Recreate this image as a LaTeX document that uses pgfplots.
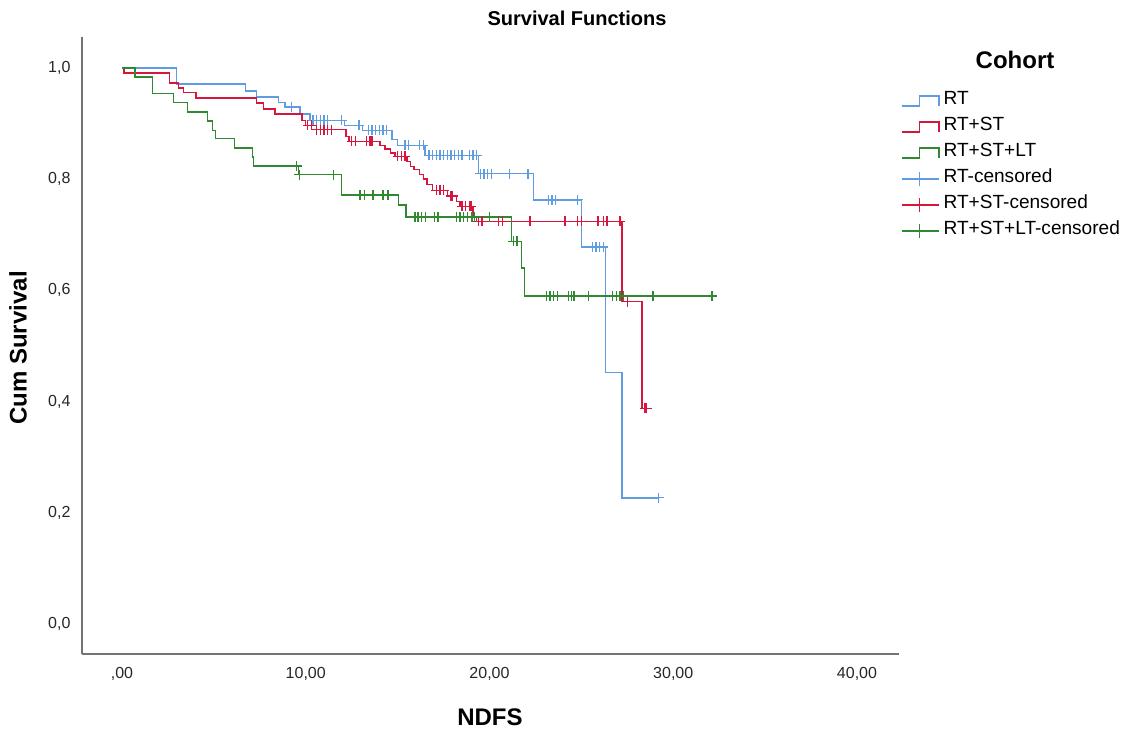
\documentclass[border=0pt]{standalone}
\usepackage{fontspec}
\setmainfont{Liberation Sans}
\usepackage{pgfplots}
\pgfplotsset{compat=1.18}
\definecolor{blueC}{RGB}{96,156,226}
\definecolor{redC}{RGB}{214,22,60}
\definecolor{greenC}{RGB}{48,136,48}
\begin{document}
\begin{tikzpicture}
\path[use as bounding box] (0,0) rectangle (844.5pt,548.25pt);
\begin{axis}[
  at={(61.5pt,57.75pt)}, anchor=south west,
  scale only axis, width=612.75pt, height=462.75pt,
  xmin=-2.177, xmax=42.286, ymin=-0.054, ymax=1.0558,
  axis x line*=bottom, axis y line*=left,
  axis line style={-, draw=black!55, line width=1pt},
  x axis line style={-}, y axis line style={-},
  major tick length=0pt,
  xtick={0,10,20,30,40},
  xticklabels={{,00},{10,00},{20,00},{30,00},{40,00}},
  ytick={0,0.2,0.4,0.6,0.8,1.0},
  yticklabels={{0,0},{0,2},{0,4},{0,6},{0,8},{1,0}},
  xticklabel style={font=\fontsize{12}{14}\selectfont, text=black!85, anchor=center, inner sep=0pt, yshift=-15pt},
  yticklabel style={font=\fontsize{12}{14}\selectfont, text=black!85, anchor=east, inner sep=0pt, xshift=-8.5pt},
  legend style={draw=none, fill=none, at={(axis description cs:0.997,0.922)}, anchor=north west,
    font=\fontsize{14.3}{16}\selectfont, row sep=0pt,
    nodes={inner sep=0pt, text height=12pt, text depth=7.5pt}},
  legend cell align=left,
  clip=false,
]
% ---- step curves ----
\addplot[blueC, line width=1.1pt, const plot, mark=none,
  legend image code/.code={\draw[blueC,line width=1.1pt] (0pt,-3.75pt) -- (13.5pt,-3.75pt) -- (13.5pt,3.75pt) -- (28pt,3.75pt) -- (28pt,-3.75pt); \path (31pt,0pt);}]
coordinates {
(0,1.0) (2.97,0.971) (6.73,0.959) (7.33,0.948) (8.51,0.938) (8.87,0.930)
(9.69,0.917) (10.23,0.906) (12.1,0.897) (13.1,0.888) (14.7,0.871) (15.0,0.861)
(16.5,0.843) (19.4,0.810) (22.4,0.763) (25.0,0.678) (26.3,0.452) (27.2,0.227) (29.2,0.227)
};
\addlegendentry{RT}
\addplot[redC, line width=1.1pt, const plot, mark=none,
  legend image code/.code={\draw[redC,line width=1.1pt] (0pt,-3.75pt) -- (13.5pt,-3.75pt) -- (13.5pt,3.75pt) -- (28pt,3.75pt) -- (28pt,-3.75pt); \path (31pt,0pt);}]
coordinates {
(0,1.0) (0.1,0.991) (2.58,0.973) (3.07,0.964) (3.34,0.956) (4.03,0.946)
(7.33,0.937) (7.69,0.926) (8.33,0.917) (9.8,0.906) (10.0,0.897) (10.3,0.889)
(12.2,0.877) (12.35,0.868) (14.04,0.861) (14.3,0.854) (14.6,0.847) (14.86,0.841)
(15.5,0.832) (15.7,0.823) (15.9,0.817) (16.2,0.808) (16.4,0.800) (16.6,0.790)
(16.9,0.780) (17.7,0.770) (18.2,0.760) (18.4,0.751) (19.1,0.733) (19.3,0.724)
(27.2,0.580) (28.3,0.388) (28.7,0.388)
};
\addlegendentry{RT+ST}
\addplot[greenC, line width=1.1pt, const plot, mark=none,
  legend image code/.code={\draw[greenC,line width=1.1pt] (0pt,-3.75pt) -- (13.5pt,-3.75pt) -- (13.5pt,3.75pt) -- (28pt,3.75pt) -- (28pt,-3.75pt); \path (31pt,0pt);}]
coordinates {
(0,1.0) (0.71,0.984) (1.67,0.954) (2.79,0.938) (3.55,0.921) (4.64,0.905)
(4.93,0.888) (5.1,0.873) (6.11,0.856) (7.11,0.840) (7.15,0.824) (9.6,0.808)
(11.95,0.772) (15.04,0.754) (15.45,0.732) (21.2,0.688) (21.75,0.640) (21.9,0.590) (32.4,0.590)
};
\addlegendentry{RT+ST+LT}
% ---- censored marks ----
\addplot[blueC, only marks, mark=+, mark size=3.75pt, mark options={line width=1pt},
  legend image code/.code={\draw[blueC,line width=1pt] (0pt,0pt) -- (28pt,0pt) (13.5pt,-5pt) -- (13.5pt,5pt); \path (31pt,0pt);}]
coordinates {
(9.23,0.930) (10.4,0.906) (10.6,0.906) (10.8,0.906) (11.0,0.906) (11.2,0.906) (11.95,0.906)
(12.9,0.897) (13.4,0.888) (13.6,0.888) (13.8,0.888) (14.0,0.888) (14.2,0.888) (14.4,0.888)
(15.4,0.861) (15.6,0.861) (16.2,0.861) (16.4,0.861)
(16.7,0.843) (16.9,0.843) (17.1,0.843) (17.3,0.843) (17.5,0.843) (17.7,0.843) (17.9,0.843)
(18.1,0.843) (18.3,0.843) (18.5,0.843) (18.9,0.843) (19.1,0.843) (19.3,0.843)
(19.5,0.810) (19.7,0.810) (19.9,0.810) (20.1,0.810) (21.1,0.810) (22.1,0.810)
(23.2,0.763) (23.4,0.763) (23.6,0.763) (24.8,0.763)
(25.6,0.678) (25.8,0.678) (26.0,0.678) (26.2,0.678) (29.2,0.227)
};
\addlegendentry{RT-censored}
\addplot[redC, only marks, mark=+, mark size=3.75pt, mark options={line width=1pt},
  legend image code/.code={\draw[redC,line width=1pt] (0pt,0pt) -- (28pt,0pt) (13.5pt,-5pt) -- (13.5pt,5pt); \path (31pt,0pt);}]
coordinates {
(10.1,0.897) (10.3,0.897) (10.6,0.889) (10.8,0.889) (11.0,0.889) (11.2,0.889) (11.4,0.889)
(12.5,0.868) (12.7,0.868) (13.3,0.868) (13.5,0.868) (13.6,0.868)
(15.0,0.841) (15.2,0.841) (15.4,0.841)
(17.1,0.780) (17.3,0.780) (17.5,0.780) (17.9,0.770) (18.0,0.770)
(18.5,0.751) (18.7,0.751) (18.9,0.751) (19.0,0.751)
(19.4,0.724) (19.6,0.724) (20.5,0.724) (20.7,0.724) (22.2,0.724) (24.1,0.724)
(24.8,0.724) (25.0,0.724) (25.9,0.724) (26.2,0.724) (26.4,0.724) (27.1,0.724)
(27.5,0.580) (28.45,0.388) (28.5,0.388) (28.55,0.388)
};
\addlegendentry{RT+ST-censored}
\addplot[greenC, only marks, mark=+, mark size=3.75pt, mark options={line width=1pt},
  legend image code/.code={\draw[greenC,line width=1pt] (0pt,0pt) -- (28pt,0pt) (13.5pt,-5pt) -- (13.5pt,5pt); \path (31pt,0pt);}]
coordinates {
(9.5,0.824) (9.65,0.808) (11.5,0.808)
(12.95,0.772) (13.2,0.772) (13.66,0.772) (14.2,0.772) (14.47,0.772)
(15.95,0.732) (16.1,0.732) (16.3,0.732) (16.5,0.732) (17.0,0.732) (17.2,0.732)
(18.2,0.732) (18.4,0.732) (18.6,0.732) (18.8,0.732) (19.05,0.732) (19.2,0.732) (20.0,0.732)
(21.3,0.688) (21.5,0.688)
(23.1,0.590) (23.3,0.590) (23.5,0.590) (23.7,0.590) (24.3,0.590) (24.45,0.590) (24.6,0.590)
(25.4,0.590) (26.7,0.590) (26.9,0.590) (27.1,0.590) (27.3,0.590) (28.9,0.590) (32.1,0.590)
};
\addlegendentry{RT+ST+LT-censored}
\end{axis}
\node[font=\bfseries\fontsize{15}{17}\selectfont, inner sep=0pt] at (432.75pt,534.75pt) {Survival Functions};
\node[font=\bfseries\fontsize{18}{20}\selectfont, inner sep=0pt, rotate=90] at (13.5pt,287.25pt) {Cum Survival};
\node[font=\bfseries\fontsize{18}{20}\selectfont, inner sep=0pt] at (367.5pt,10.5pt) {NDFS};
\node[font=\bfseries\fontsize{18}{20}\selectfont, inner sep=0pt] at (761.25pt,503.25pt) {Cohort};
\end{tikzpicture}
\end{document}
